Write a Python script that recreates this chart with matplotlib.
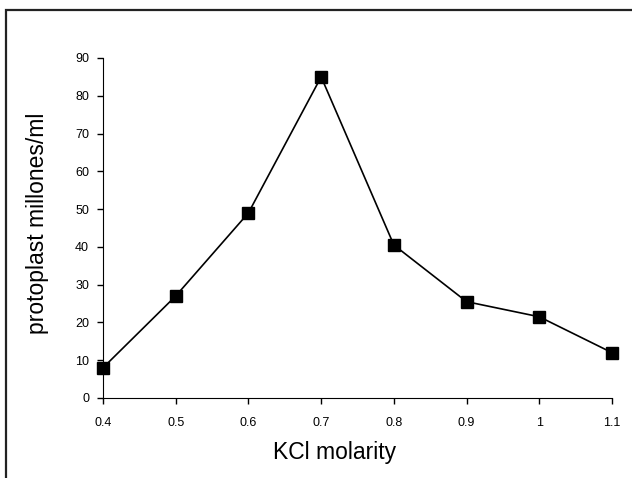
import matplotlib
matplotlib.use("Agg")
import matplotlib.pyplot as plt
from matplotlib.patches import Rectangle

molarity = [0.4, 0.5, 0.6, 0.7, 0.8, 0.9, 1.0, 1.1]
protoplasts = [8, 27, 49, 85, 40.5, 25.5, 21.5, 12]
x_ticks = [0.4, 0.5, 0.6, 0.7, 0.8, 0.9, 1.0, 1.1]
x_tick_labels = ["0.4", "0.5", "0.6", "0.7", "0.8", "0.9", "1", "1.1"]
y_ticks = [0, 10, 20, 30, 40, 50, 60, 70, 80, 90]

plt.rcParams['font.family'] = ['Liberation Sans', 'DejaVu Sans']

fig = plt.figure(figsize=(6.32, 4.78), dpi=100)

# frame around the scanned chart
fig.patches.append(Rectangle((6 / 632, -0.1), 1.1, 1 - 10 / 478 + 0.1,
                             transform=fig.transFigure, fill=False,
                             edgecolor='#222222', linewidth=1.6))

ax = fig.add_axes([103 / 632, 1 - 398 / 478, (612 - 103) / 632, (398 - 58) / 478])
ax.plot(molarity, protoplasts, color='black', linewidth=1.2,
        marker='s', markersize=9, markerfacecolor='black', clip_on=False)

ax.set_xlim(0.4, 1.1)
ax.set_ylim(0, 90)
ax.set_xticks(x_ticks)
ax.set_xticklabels(x_tick_labels)
ax.set_yticks(y_ticks)
ax.spines['top'].set_visible(False)
ax.spines['right'].set_visible(False)
ax.tick_params(axis='both', direction='out', length=4, width=1, labelsize=9)
ax.tick_params(axis='x', pad=10)
ax.tick_params(axis='y', pad=6)

ax.set_xlabel("KCl molarity", fontsize=16.5)
ax.xaxis.set_label_coords(0.454, -0.125)
ax.set_ylabel("protoplast millones/ml", fontsize=16.5, va='center')
ax.yaxis.set_label_coords(-0.128, 0.515)

fig.savefig("out.png", dpi=100)
